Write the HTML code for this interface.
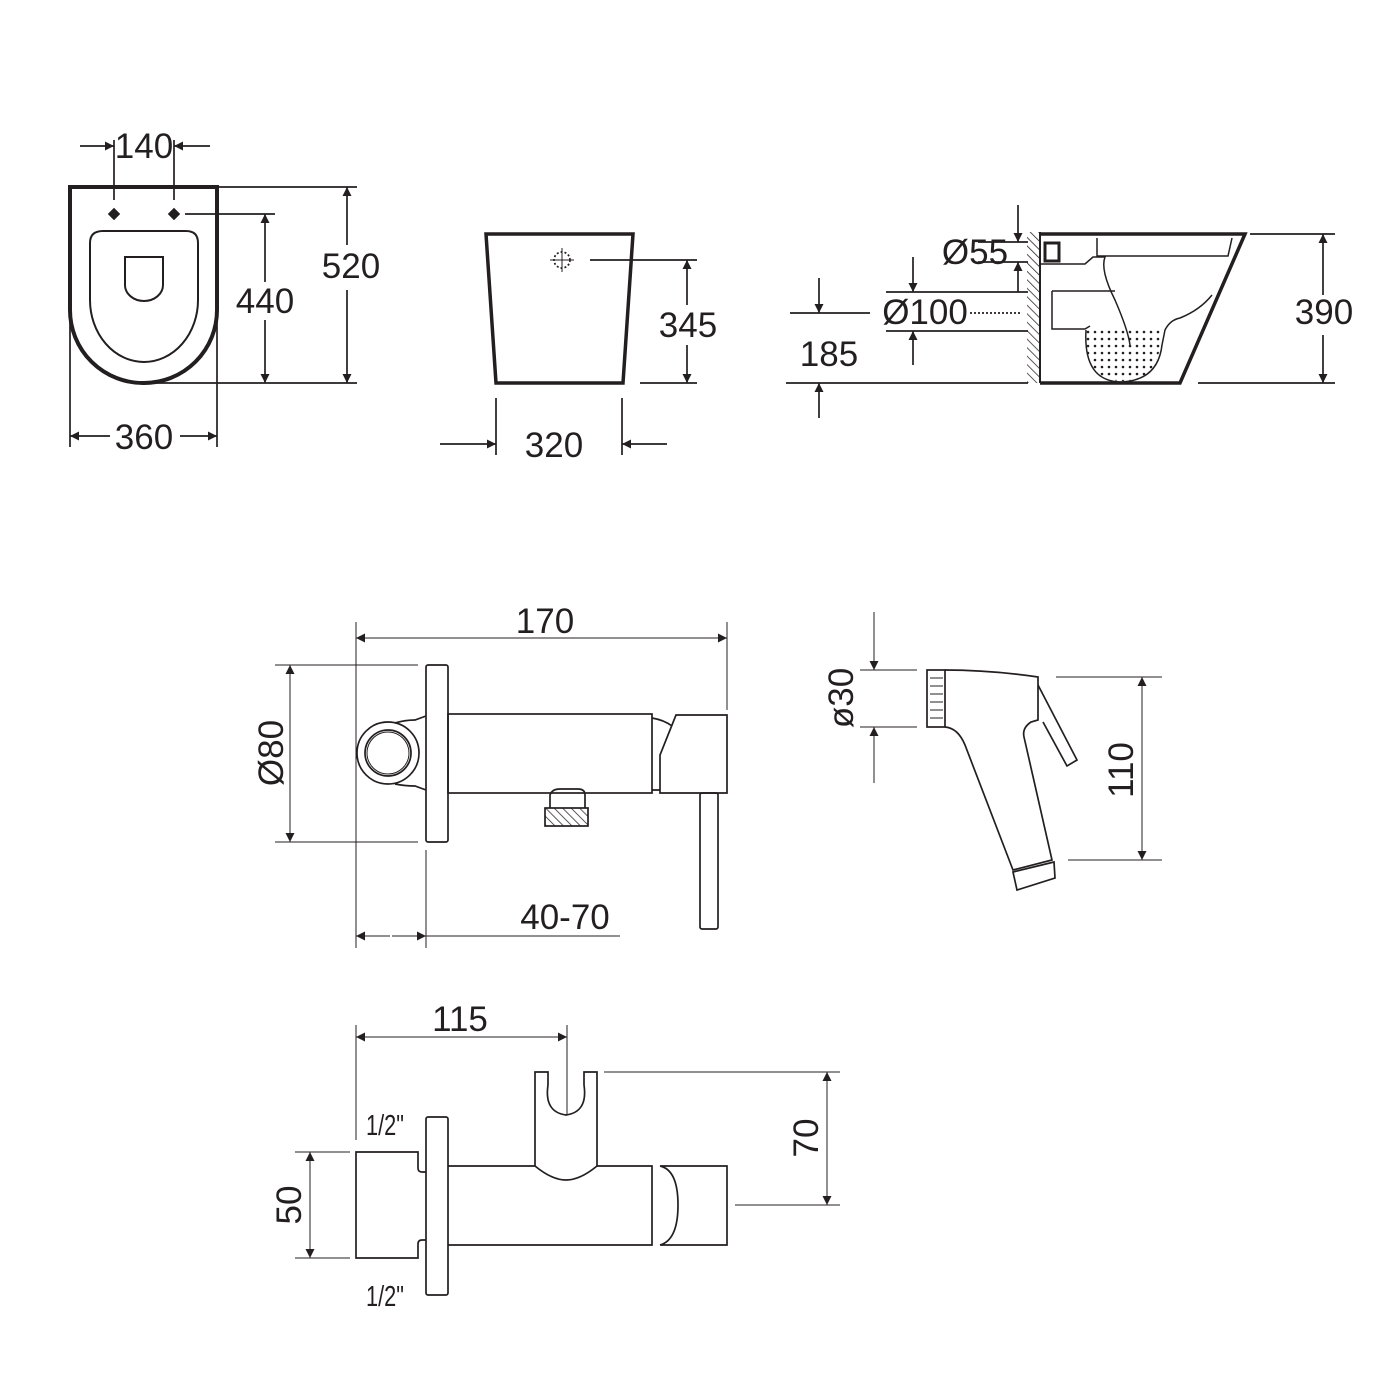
<!DOCTYPE html>
<html><head><meta charset="utf-8"><style>
html,body{margin:0;padding:0;background:#fff}
svg{display:block}
text{font-family:"Liberation Sans",sans-serif;font-size:35px;fill:#231f20}
</style></head><body>
<svg width="1400" height="1400" viewBox="0 0 1400 1400" xmlns="http://www.w3.org/2000/svg">
<defs>
<marker id="a" viewBox="0 0 10 10" refX="10" refY="5" markerWidth="20" markerHeight="9" markerUnits="userSpaceOnUse" orient="auto-start-reverse"><path d="M0,0 L10,5 L0,10 Z" fill="#231f20"/></marker>
<pattern id="h" width="6" height="6" patternUnits="userSpaceOnUse" patternTransform="rotate(-45)"><line x1="0" y1="0" x2="0" y2="6" stroke="#231f20" stroke-width="1.5"/></pattern>
<pattern id="d" width="7" height="7" patternUnits="userSpaceOnUse"><circle cx="3" cy="3" r="1.3" fill="#231f20"/></pattern>
</defs>
<g fill="none" stroke="#231f20" stroke-width="1.7">
<!-- TOP LEFT -->
<path d="M70,187 H217 V310 A73,73 0 0 1 144,383 A73,73 0 0 1 70,310 Z" stroke-width="4"/>
<path d="M103,231 H186 Q198,231 198,243 V300 A54,62 0 0 1 90,300 V243 Q90,231 103,231 Z" stroke-width="2"/>
<path d="M125,257 H163 V285 A19,16 0 0 1 125,285 Z" stroke-width="2"/>
<path d="M114,209 L119,214 L114,219 L109,214 Z M174,209 L179,214 L174,219 L169,214 Z" fill="#231f20"/>
<line x1="114" y1="140" x2="114" y2="200"/><line x1="174" y1="140" x2="174" y2="200"/>
<line x1="80" y1="146" x2="114" y2="146" marker-end="url(#a)"/><line x1="210" y1="146" x2="174" y2="146" marker-end="url(#a)"/>
<line x1="185" y1="214" x2="275" y2="214"/>
<line x1="265" y1="214" x2="265" y2="282" marker-start="url(#a)"/><line x1="265" y1="320" x2="265" y2="383" marker-end="url(#a)"/>
<line x1="217" y1="187" x2="357" y2="187"/><line x1="150" y1="383" x2="357" y2="383"/>
<line x1="347" y1="187" x2="347" y2="245" marker-start="url(#a)"/><line x1="347" y1="290" x2="347" y2="383" marker-end="url(#a)"/>
<line x1="70" y1="310" x2="70" y2="447"/><line x1="217" y1="310" x2="217" y2="447"/>
<line x1="110" y1="436" x2="70" y2="436" marker-end="url(#a)"/><line x1="180" y1="436" x2="217" y2="436" marker-end="url(#a)"/>
<!-- TANK -->
<path d="M486,234 H633 L623,383 H496 Z" stroke-width="3.5"/>
<circle cx="562" cy="260" r="8" stroke-dasharray="2 2"/><line x1="550" y1="260" x2="574" y2="260" stroke-width="1"/><line x1="562" y1="248" x2="562" y2="272" stroke-width="1"/>
<line x1="590" y1="260" x2="697" y2="260"/><line x1="640" y1="383" x2="697" y2="383"/>
<line x1="687" y1="260" x2="687" y2="305" marker-start="url(#a)"/><line x1="687" y1="345" x2="687" y2="383" marker-end="url(#a)"/>
<line x1="496" y1="398" x2="496" y2="455"/><line x1="622" y1="398" x2="622" y2="455"/>
<line x1="440" y1="444" x2="496" y2="444" marker-end="url(#a)"/><line x1="667" y1="444" x2="622" y2="444" marker-end="url(#a)"/>
<!-- SIDE VIEW -->
<rect x="1027" y="232" width="12" height="151" fill="url(#h)" stroke="none"/>
<line x1="1040" y1="232" x2="1040" y2="383" stroke-width="2"/>
<path d="M1040,234 H1245 L1180,383 H1040" stroke-width="3.5"/>
<path d="M1097,238 V256 H1228 L1232,238" stroke-width="1.5"/>
<rect x="1045" y="243" width="14" height="18" stroke-width="3"/>
<path d="M1040,264 H1085 L1093,257 L1105,257 Q1100,270 1115,300 Q1128,330 1130,345" stroke-width="1.5"/>
<path d="M1052,291 H1115 M1052,291 V329 H1085 L1090,326" stroke-width="1.5"/>
<path d="M1085,328 H1160 V340 Q1160,380 1122,381 Q1086,380 1086,340 Z" fill="url(#d)" stroke="none"/>
<path d="M1086,330 Q1083,382 1122,382 Q1158,380 1162,345 L1165,330 Q1170,320 1180,318 Q1200,310 1212,295" stroke-width="1.5"/>
<line x1="978" y1="242" x2="1028" y2="242"/><line x1="978" y1="262" x2="1028" y2="262"/>
<line x1="1018" y1="205" x2="1018" y2="242" marker-end="url(#a)"/><line x1="1018" y1="292" x2="1018" y2="262" marker-end="url(#a)"/>
<line x1="886" y1="292" x2="1028" y2="292"/><line x1="886" y1="331" x2="1028" y2="331"/>
<line x1="913" y1="257" x2="913" y2="292" marker-end="url(#a)"/><line x1="913" y1="365" x2="913" y2="331" marker-end="url(#a)"/>
<line x1="970" y1="313" x2="1020" y2="313" stroke-dasharray="2 2"/>
<line x1="790" y1="313" x2="870" y2="313"/><line x1="786" y1="383" x2="1028" y2="383"/>
<line x1="819" y1="278" x2="819" y2="313" marker-end="url(#a)"/><line x1="819" y1="418" x2="819" y2="383" marker-end="url(#a)"/>
<line x1="1250" y1="234" x2="1335" y2="234"/><line x1="1198" y1="383" x2="1335" y2="383"/>
<line x1="1323" y1="234" x2="1323" y2="295" marker-start="url(#a)"/><line x1="1323" y1="335" x2="1323" y2="383" marker-end="url(#a)"/>
<!-- FAUCET -->
<line x1="356" y1="622" x2="356" y2="948" stroke-width="1"/><line x1="727" y1="622" x2="727" y2="710" stroke-width="1"/>
<line x1="356" y1="638" x2="727" y2="638" marker-start="url(#a)" marker-end="url(#a)" stroke-width="1"/>
<line x1="275" y1="665" x2="418" y2="665" stroke-width="1"/><line x1="275" y1="842" x2="418" y2="842" stroke-width="1"/>
<line x1="290" y1="665" x2="290" y2="842" marker-start="url(#a)" marker-end="url(#a)" stroke-width="1"/>
<rect x="426" y="665" width="22" height="177" rx="2"/>
<rect x="448" y="714" width="204" height="79"/>
<circle cx="388" cy="753" r="31"/><circle cx="388" cy="753" r="23"/><circle cx="388" cy="753" r="21" stroke-width="1"/>
<path d="M395,723 Q405,720 415,720 L426,716 M395,784 Q405,786 415,786 L426,790"/>
<path d="M652,718 Q664,720 672,726 M652,790 L660,790"/>
<path d="M676,715 H727 V793 H660 V755 Z"/>
<rect x="700" y="793" width="18" height="136" rx="2"/>
<path d="M550,808 V795 Q552,789 560,789 H578 Q585,789 585,795 V808"/>
<rect x="545" y="808" width="43" height="18" fill="url(#h)"/>
<line x1="426" y1="850" x2="426" y2="948" stroke-width="1"/>
<line x1="390" y1="936" x2="356" y2="936" marker-end="url(#a)" stroke-width="1"/><line x1="392" y1="936" x2="426" y2="936" marker-end="url(#a)" stroke-width="1"/>
<line x1="426" y1="936" x2="620" y2="936" stroke-width="1"/>
<!-- SPRAYER -->
<line x1="860" y1="670" x2="917" y2="670" stroke-width="1"/><line x1="860" y1="727" x2="917" y2="727" stroke-width="1"/>
<line x1="874" y1="612" x2="874" y2="670" marker-end="url(#a)" stroke-width="1"/><line x1="874" y1="783" x2="874" y2="727" marker-end="url(#a)" stroke-width="1"/>
<rect x="927" y="670" width="18" height="57"/>
<path d="M930,678 H943 M930,686 H943 M930,694 H943 M930,702 H943 M930,710 H943 M930,718 H943" stroke-width="1"/>
<path d="M945,670 Q990,670 1038,677 V720 L1031,722 Q1022,728 1024,737 L1052,860 L1013,870 L965,745 Q958,728 945,727"/>
<path d="M1038,685 L1077,760 L1067,766 L1043,722"/>
<path d="M1013,872 L1054,862 L1055,878 L1017,890 Z"/>
<line x1="1056" y1="677" x2="1162" y2="677" stroke-width="1"/><line x1="1068" y1="860" x2="1162" y2="860" stroke-width="1"/>
<line x1="1142" y1="677" x2="1142" y2="860" marker-start="url(#a)" marker-end="url(#a)" stroke-width="1"/>
<!-- VALVE -->
<line x1="356" y1="1025" x2="356" y2="1140" stroke-width="1"/><line x1="567" y1="1025" x2="567" y2="1115" stroke-width="1"/>
<line x1="356" y1="1037" x2="567" y2="1037" marker-start="url(#a)" marker-end="url(#a)" stroke-width="1"/>
<line x1="604" y1="1072" x2="840" y2="1072" stroke-width="1"/><line x1="735" y1="1205" x2="840" y2="1205" stroke-width="1"/>
<line x1="827" y1="1072" x2="827" y2="1205" marker-start="url(#a)" marker-end="url(#a)" stroke-width="1"/>
<line x1="295" y1="1152" x2="350" y2="1152" stroke-width="1"/><line x1="295" y1="1258" x2="350" y2="1258" stroke-width="1"/>
<line x1="310" y1="1152" x2="310" y2="1258" marker-start="url(#a)" marker-end="url(#a)" stroke-width="1"/>
<path d="M426,1172 H422 Q418,1172 418,1168 V1152 H356 V1258 H418 V1244 Q418,1240 422,1240 H426"/>
<rect x="426" y="1117" width="22" height="178" rx="2"/>
<path d="M448,1166 H535 M597,1166 H652 V1245 H448"/>
<path d="M535,1166 V1072 H548 V1085 M584,1085 V1072 H597 V1166 Q580,1180 566,1180 Q552,1180 535,1166"/>
<path d="M548,1085 Q544,1112 566,1115 Q588,1112 584,1085"/>
<path d="M660,1166 H727 V1245 H660 M660,1166 Q678,1170 678,1205 Q678,1240 660,1245"/>
</g>
<g>
<text x="144" y="158" text-anchor="middle">140</text>
<text x="265" y="313" text-anchor="middle">440</text>
<text x="351" y="278" text-anchor="middle">520</text>
<text x="144" y="449" text-anchor="middle">360</text>
<text x="688" y="337" text-anchor="middle">345</text>
<text x="554" y="457" text-anchor="middle">320</text>
<text x="975" y="264" text-anchor="middle">Ø55</text>
<text x="925" y="324" text-anchor="middle">Ø100</text>
<text x="829" y="366" text-anchor="middle">185</text>
<text x="1324" y="324" text-anchor="middle">390</text>
<text x="545" y="633" text-anchor="middle">170</text>
<text transform="translate(283,753) rotate(-90)" text-anchor="middle">Ø80</text>
<text x="565" y="929" text-anchor="middle">40-70</text>
<text transform="translate(853,698) rotate(-90)" text-anchor="middle">ø30</text>
<text transform="translate(1133,770) rotate(-90)" text-anchor="middle">110</text>
<text x="460" y="1031" text-anchor="middle">115</text>
<text transform="translate(818,1138) rotate(-90)" text-anchor="middle">70</text>
<text transform="translate(301,1205) rotate(-90)" text-anchor="middle">50</text>
<text transform="translate(385,1135) scale(0.75,1)" text-anchor="middle" style="font-size:29px">1/2"</text>
<text transform="translate(385,1306) scale(0.75,1)" text-anchor="middle" style="font-size:29px">1/2"</text>
</g>
</svg>
</body></html>
